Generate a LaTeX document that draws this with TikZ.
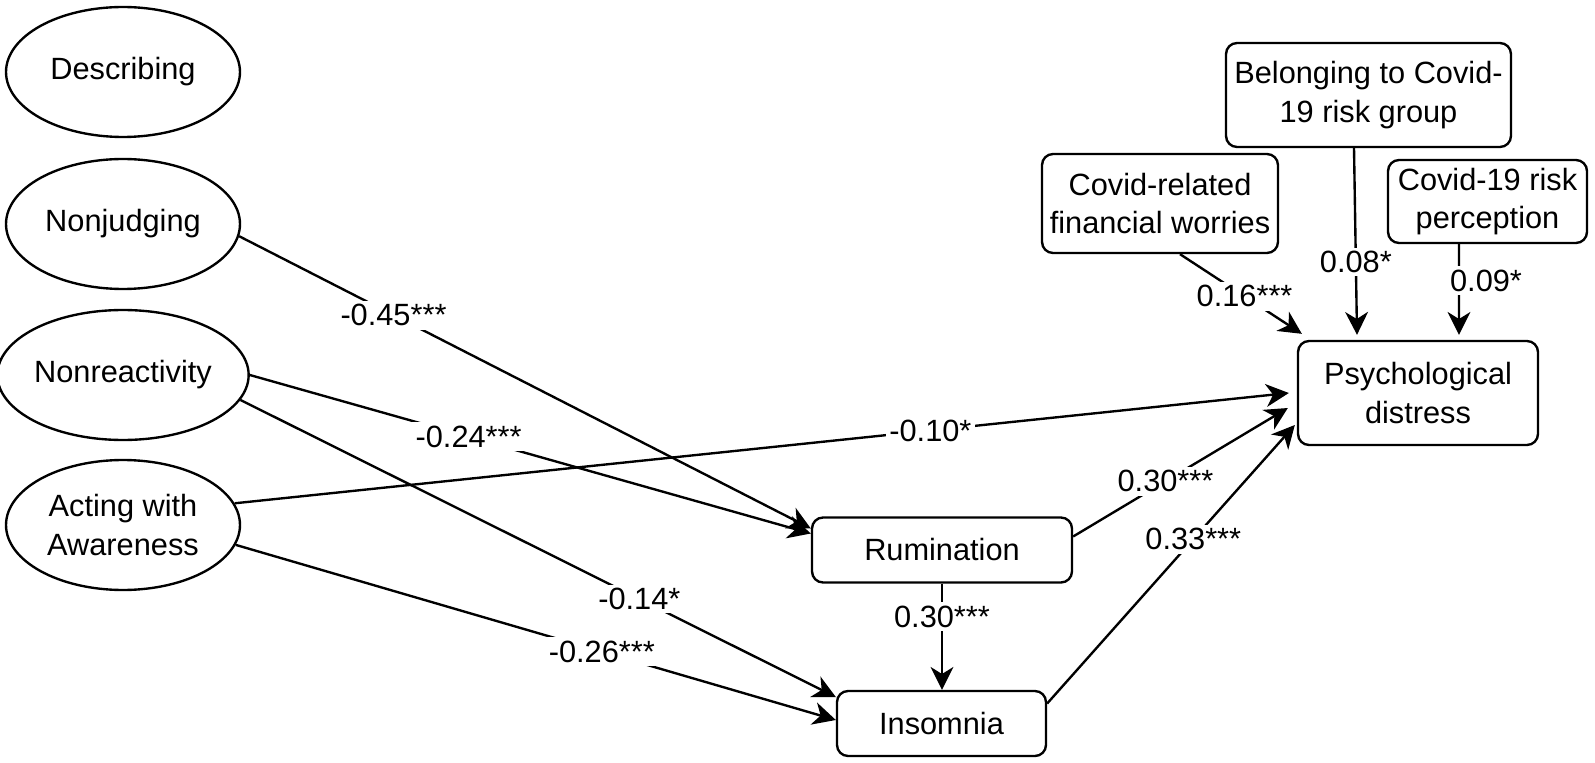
\documentclass[tikz,border=0pt]{standalone}
\usepackage{fontspec}
\setmainfont{Liberation Sans}
\usepackage{tikz}
\usetikzlibrary{positioning,arrows.meta,shapes}

\newcommand{\bigtxt}{\fontsize{17.5}{21.8}\selectfont}

\tikzset{
  latent/.style={draw,ellipse,line width=1.35pt,minimum width=4.68cm,
    minimum height=2.6cm,inner sep=0pt,align=center,font=\bigtxt},
  obs/.style={draw,rectangle,rounded corners=0.22cm,line width=1.35pt,
    inner sep=0pt,align=center,font=\bigtxt},
  eff/.style={line width=1.35pt,-{Stealth[length=13pt,width=13pt,inset=4pt]}},
  coef/.style={fill=white,inner sep=2pt,font=\bigtxt}
}

\begin{document}
\begin{tikzpicture}[x=0.02cm,y=-0.02cm]
\useasboundingbox (0,0) rectangle (1595,763);
% mindfulness facets
\node[latent] (desc) at (123,72) {Describing};
\node[latent] (nonj) at (123,224) {Nonjudging};
\node[latent] (nonr) at (123,375) {Nonreactivity};
\node[latent] (act) at (123,525) {Acting with\\Awareness};
% mediators and outcome
\node[obs,minimum width=5.2cm,minimum height=1.3cm] (rum) at (942,550) {Rumination};
\node[obs,minimum width=4.18cm,minimum height=1.3cm] (ins) at (941.5,723.5) {Insomnia};
\node[obs,minimum width=4.8cm,minimum height=2.08cm] (psy) at (1418,393) {Psychological\\distress};
% covid covariates
\node[obs,minimum width=5.7cm,minimum height=2.08cm] (risk) at (1368.5,95) {Belonging to Covid-\\19 risk group};
\node[obs,minimum width=4.72cm,minimum height=1.98cm] (fin) at (1160,203.5) {Covid-related\\financial worries};
\node[obs,minimum width=3.98cm,minimum height=1.66cm] (perc) at (1487.5,201.5) {Covid-19 risk\\perception};

% paths from the facets
\draw[eff] (nonj.-6) -- node[coef,pos=0.27] {-0.45***} ([yshift=0.43cm]rum.west);
\draw[eff] (nonr.0) -- node[coef,pos=0.39] {-0.24***} ([yshift=0.33cm]rum.west);
\draw[eff] (nonr.-12) -- node[coef,pos=0.67] {-0.14*} ([yshift=0.53cm]ins.west);
\draw[eff] (act.-10) -- node[coef,pos=0.61] {-0.26***} ([yshift=0.07cm]ins.west);
\draw[eff] (act.11) -- node[coef,pos=0.66] {-0.10*} ([xshift=-0.16cm]psy.west);

% mediators
\draw[eff] (rum.south) -- node[coef,pos=0.31] {0.30***} (rum.south |- ins.north);
\draw[eff] ([yshift=0.27cm]rum.east) -- node[coef,pos=0.43] {0.30***} ([shift={(-0.18cm,-0.3cm)}]psy.west);
\draw[eff] ([yshift=0.4cm]ins.east) -- node[coef,pos=0.59] {0.33***} ([shift={(-0.04cm,-0.64cm)}]psy.west);

% covariates
\draw[eff] ([xshift=0.4cm]fin.south) -- node[coef,pos=0.53] {0.16***} ([shift={(0.1cm,0.12cm)}]psy.north west);
\draw[eff] ([xshift=-0.29cm]risk.south) -- node[coef,pos=0.61] {0.08*} ([shift={(-1.22cm,0.1cm)}]psy.north);
\draw[eff] ([xshift=-0.57cm]perc.south) -- node[coef,pos=0.4,xshift=0.54cm] {0.09*} ([shift={(0.82cm,0.1cm)}]psy.north);
\end{tikzpicture}
\end{document}
